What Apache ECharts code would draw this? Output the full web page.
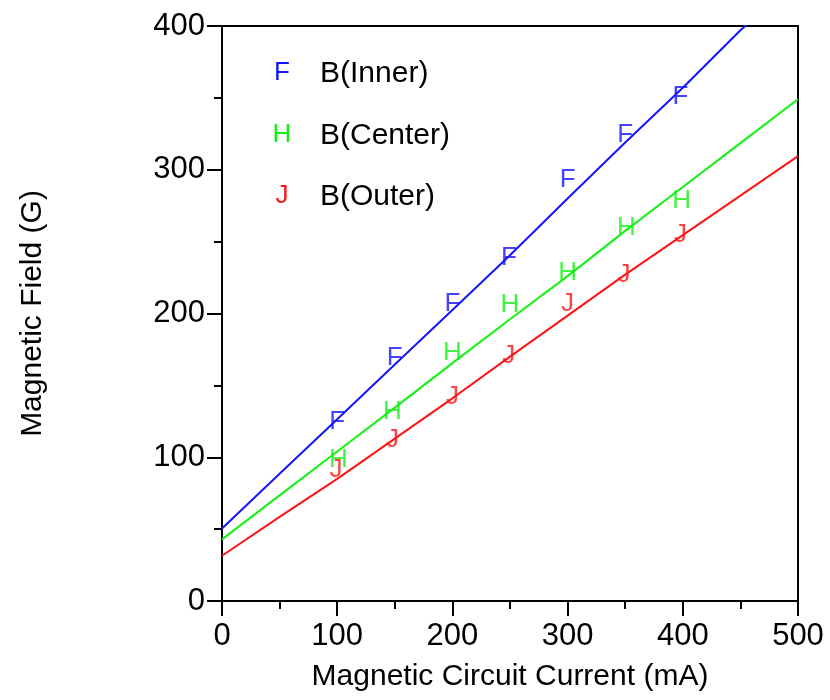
<!DOCTYPE html>
<html>
<head>
<meta charset="utf-8">
<script src="https://cdn.jsdelivr.net/npm/echarts@6/dist/echarts.min.js"></script>
<style>html,body{margin:0;padding:0;background:#fff}#c{width:830px;height:700px}</style>
</head>
<body>
<div id="c"></div>
<script>
// Continuous measured curves (current mA -> field G)
var currentX = [0, 50, 100, 150, 200, 250, 300, 350, 400, 450, 500];
var innerLine = [50.5, 88.5, 126.5, 164.5, 202.5, 240.5, 280, 319, 357, 397, 432];
var centerLine = [42.9, 73.5, 104, 134.5, 165.5, 196, 226, 257.5, 288, 318.5, 349];
var outerLine = [31.5, 58.5, 85, 113, 141, 170, 198.5, 227, 254.5, 282, 309.5];

// Discrete symbol points
var innerPtsX = [100, 150, 200, 249, 300, 350, 398];
var innerPtsY = [124.5, 169.5, 207, 239, 293, 324, 351];
var centerPtsX = [101, 148, 200, 250, 300, 351, 399];
var centerPtsY = [98, 131.5, 172.5, 206, 228, 259.5, 278.5];
var outerPtsX = [99, 148, 200, 249, 300, 349, 398];
var outerPtsY = [91, 112, 142, 170.5, 207, 227, 255];

var seriesNames = ['B(Inner)', 'B(Center)', 'B(Outer)'];
var seriesLetters = ['F', 'H', 'J'];
var seriesColors = ['#1414ff', '#14f014', '#ff1414'];
var xTicks = [0, 100, 200, 300, 400, 500];
var yTicks = [0, 100, 200, 300, 400];

var FONT = '"Liberation Sans", Arial, sans-serif';

function zip(xs, ys) { return xs.map(function (x, i) { return [x, ys[i]]; }); }

var lines = [innerLine, centerLine, outerLine];
var ptsX = [innerPtsX, centerPtsX, outerPtsX];
var ptsY = [innerPtsY, centerPtsY, outerPtsY];

var series = [];
for (var k = 0; k < 3; k++) {
  series.push({
    name: seriesNames[k], type: 'line', data: zip(currentX, lines[k]),
    showSymbol: false, symbol: 'none', clip: true, z: 2,
    lineStyle: { color: seriesColors[k], width: 2 }
  });
  series.push({
    name: seriesNames[k] + ' pts', type: 'scatter', data: zip(ptsX[k], ptsY[k]),
    symbol: 'circle', symbolSize: 1, z: 3,
    itemStyle: { color: 'rgba(0,0,0,0)' },
    label: {
      show: true, position: 'inside', formatter: seriesLetters[k],
      color: seriesColors[k], fontSize: 26, fontFamily: FONT
    }
  });
}

var graphics = [];
var legendY = [73, 135, 196];
for (var j = 0; j < 3; j++) {
  graphics.push({ type: 'text', x: 282, y: legendY[j],
    style: { text: seriesLetters[j], fill: seriesColors[j], font: '26px ' + FONT,
      align: 'center', verticalAlign: 'middle' } });
  graphics.push({ type: 'text', x: 320, y: legendY[j] + 1,
    style: { text: seriesNames[j], fill: '#000', font: '30px ' + FONT,
      align: 'left', verticalAlign: 'middle' } });
}

var chart = echarts.init(document.getElementById('c'), null, { renderer: 'canvas' });
chart.setOption({
  backgroundColor: '#fff',
  animation: false,
  grid: { left: 222, right: 32, top: 26, bottom: 99, containLabel: false },
  xAxis: [{
    type: 'value', min: 0, max: 500, interval: 100,
    name: 'Magnetic Circuit Current (mA)', nameLocation: 'middle', nameGap: 61,
    nameTextStyle: { fontSize: 30, color: '#000', fontFamily: FONT },
    axisLine: { show: true, onZero: false, lineStyle: { color: '#000', width: 2 } },
    axisTick: { show: true, inside: false, length: 15, lineStyle: { color: '#000', width: 2 } },
    minorTick: { show: true, splitNumber: 2, length: 8, lineStyle: { color: '#000', width: 2 } },
    axisLabel: { fontSize: 31, color: '#000', fontFamily: FONT, margin: 20,
      formatter: function (v) { return xTicks.indexOf(v) >= 0 ? String(v) : ''; } },
    splitLine: { show: false }
  }, {
    type: 'value', position: 'top', min: 0, max: 500,
    axisLine: { show: true, onZero: false, lineStyle: { color: '#000', width: 2 } },
    axisTick: { show: false }, axisLabel: { show: false }, splitLine: { show: false }
  }],
  yAxis: [{
    type: 'value', min: 0, max: 400, interval: 100,
    name: 'Magnetic Field (G)', nameLocation: 'middle', nameGap: 174, nameRotate: 90,
    nameTextStyle: { fontSize: 30, color: '#000', fontFamily: FONT },
    axisLine: { show: true, onZero: false, lineStyle: { color: '#000', width: 2 } },
    axisTick: { show: true, inside: false, length: 15, lineStyle: { color: '#000', width: 2 } },
    minorTick: { show: true, splitNumber: 2, length: 8, lineStyle: { color: '#000', width: 2 } },
    axisLabel: { fontSize: 31, color: '#000', fontFamily: FONT, margin: 17,
      formatter: function (v) { return yTicks.indexOf(v) >= 0 ? String(v) : ''; } },
    splitLine: { show: false }
  }, {
    type: 'value', position: 'right', min: 0, max: 400,
    axisLine: { show: true, onZero: false, lineStyle: { color: '#000', width: 2 } },
    axisTick: { show: false }, axisLabel: { show: false }, splitLine: { show: false }
  }],
  graphic: graphics,
  series: series
});
</script>
</body>
</html>
